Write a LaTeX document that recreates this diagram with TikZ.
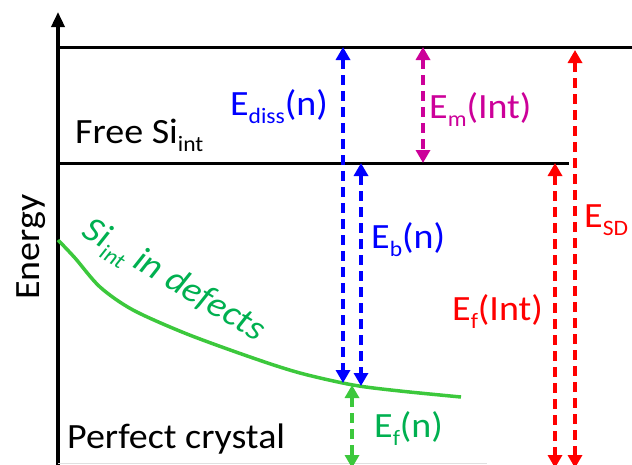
\documentclass[tikz,border=0pt]{standalone}
\usepackage{fontspec}
\setmainfont{Carlito}[FakeStretch=1.07]
\usetikzlibrary{arrows.meta}
\definecolor{eblue}{RGB}{0,0,255}
\definecolor{emag}{RGB}{204,0,153}
\definecolor{ered}{RGB}{255,0,0}
\definecolor{cgreen}{RGB}{60,200,60}
\definecolor{tgreen}{RGB}{0,176,80}
\newcommand\lo[1]{\raisebox{-8.5pt}{\fontsize{22}{22}\selectfont #1}}
\begin{document}
\begin{tikzpicture}[x=1pt,y=-1pt,
  lbl/.style={font=\fontsize{35.5}{40}\selectfont, inner sep=0pt},
  level/.style={line width=3pt, black},
  darr/.style={line width=3.5pt, dash pattern=on 10pt off 6pt,
    arrows={Triangle[width=14pt,length=13pt]-Triangle[width=14pt,length=13pt]}}]
\useasboundingbox (0,0) rectangle (632,464);
% axis
\coordinate (ax0) at (58,466);
\coordinate (ax1) at (58,12);
\draw[line width=3.5pt, -{Triangle[width=13pt,length=15pt]}] (ax0) -- (ax1);
\coordinate (bl0) at (58,463.5);
\coordinate (bl1) at (487,463.5);
\draw[line width=1pt, black!12] (bl0) -- (bl1);
% levels
\coordinate (t0) at (59,47); \coordinate (t1) at (632,47);
\coordinate (m0) at (59,163); \coordinate (m1) at (569,163);
\draw[level] (t0) -- (t1);
\draw[level] (m0) -- (m1);
% green curve
\draw[cgreen, line width=3.5pt] plot[smooth] coordinates {(58,240) (75,258) (100,287) (133,310) (187,334) (253,358) (300,373) (353,385) (400,391) (461,397)};
% arrows
\coordinate (b1t) at (343,47); \coordinate (b1b) at (343,383);
\coordinate (b2t) at (361,163); \coordinate (b2b) at (361,386);
\coordinate (mgt) at (423,47); \coordinate (mgb) at (423,163);
\coordinate (r1t) at (555,163); \coordinate (r1b) at (555,468);
\coordinate (r2t) at (575,50); \coordinate (r2b) at (575,468);
\coordinate (gt) at (352,385); \coordinate (gb) at (352,468);
\draw[darr, eblue] (b1t) -- (b1b);
\draw[darr, eblue] (b2t) -- (b2b);
\draw[darr, emag] (mgt) -- (mgb);
\draw[darr, ered] (r1t) -- (r1b);
\draw[darr, ered] (r2t) -- (r2b);
\draw[darr, cgreen] (gt) -- (gb);
% labels
\node[lbl, anchor=base west] (free) at (75,143) {Free Si\lo{int}};
\node[lbl, anchor=base west] (pc) at (67,448) {Perfect crystal};
\node[lbl, rotate=90] (energy) at (31,247) {Energy};
\node[lbl, anchor=base west, text=eblue] (ediss) at (230,115) {E\lo{diss}(n)};
\node[lbl, anchor=base west, text=emag] (em) at (429,118) {E\lo{m}(Int)};
\node[lbl, anchor=base west, text=eblue] (eb) at (371,248) {E\lo{b}(n)};
\node[lbl, anchor=base west, text=ered] (esd) at (584,227) {E\lo{SD}};
\node[lbl, anchor=base west, text=ered] (efint) at (452,320) {E\lo{f}(Int)};
\node[lbl, anchor=base west, text=tgreen] (efn) at (374,437) {E\lo{f}(n)};
\node[lbl, font=\fontsize{35.5}{40}\selectfont\itshape, text=tgreen, rotate=-31] (sid) at (173,282) {Si\lo{int} in defects};
\end{tikzpicture}
\end{document}
